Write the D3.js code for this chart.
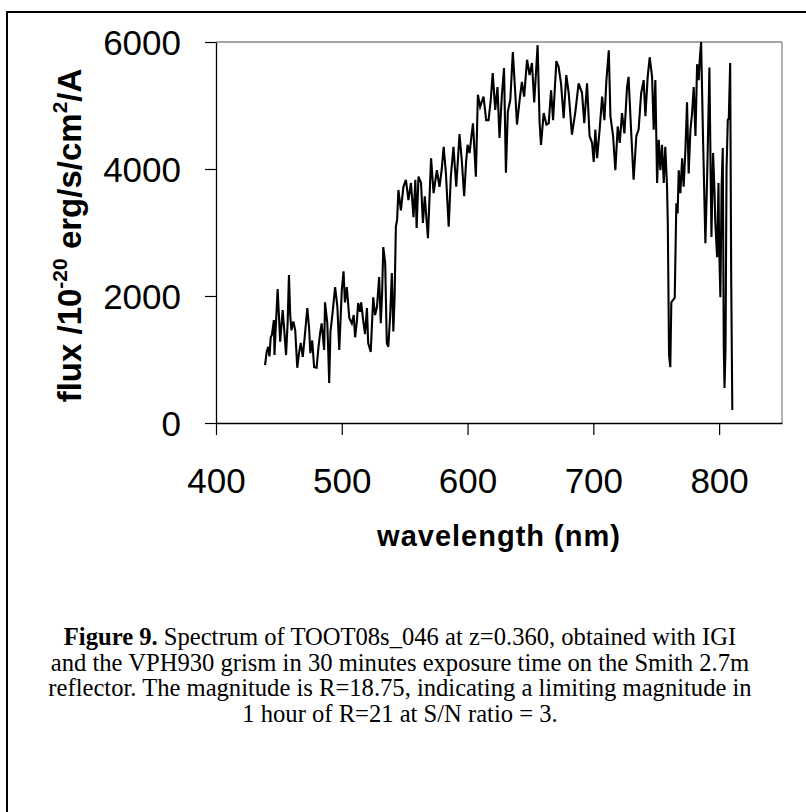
<!DOCTYPE html>
<html><head><meta charset="utf-8">
<script src="https://cdn.jsdelivr.net/npm/d3@7"></script>
<style>html,body{margin:0;padding:0;background:#fff;}</style>
</head><body>
<svg id="chart" width="806" height="812"></svg>
<script>
const wavelength = [439.0,440.3,441.5,442.5,443.5,444.5,446.0,446.5,447.5,449.0,450.0,451.0,453.0,454.5,455.7,457.0,458.0,459.0,460.0,461.5,463.0,464.6,466.0,467.4,469.0,470.5,472.6,474.0,475.0,476.5,478.0,480.0,481.5,482.8,484.0,486.0,486.7,488.5,489.3,490.0,491.0,492.5,494.7,496.5,498.0,500.0,501.4,502.5,504.0,506.0,508.0,509.5,510.6,512.0,513.0,514.5,515.4,517.0,518.5,520.0,521.0,523.0,525.0,526.5,528.0,529.7,531.0,532.0,533.0,534.5,535.8,537.0,538.5,539.8,541.0,542.0,543.0,544.0,545.0,547.0,549.0,551.0,553.0,555.0,557.0,558.5,559.5,561.0,563.0,564.5,566.0,568.5,570.0,571.0,573.0,575.6,577.7,579.5,581.0,582.8,585.0,586.7,588.8,591.0,593.6,595.5,597.3,598.8,600.0,601.6,603.0,604.3,606.6,608.2,610.0,612.7,614.8,616.7,618.5,620.0,622.0,623.8,625.4,627.3,629.0,630.5,632.0,634.0,636.0,638.0,639.3,641.4,643.2,645.0,647.3,649.3,651.2,653.0,655.7,657.3,658.4,660.5,662.7,664.5,666.4,668.0,670.6,672.4,674.3,676.4,678.5,680.4,683.0,685.7,688.3,691.0,692.8,695.0,697.0,699.0,700.3,701.6,703.0,705.0,707.0,708.8,710.4,712.3,713.6,715.7,717.5,719.4,721.0,722.8,724.7,726.8,728.0,730.0,732.0,734.2,736.0,738.0,740.0,741.4,743.2,744.8,746.7,748.0,749.3,750.7,752.0,753.3,754.6,756.0,757.2,758.6,759.2,760.2,761.2,762.0,764.7,766.0,767.0,767.9,769.2,770.6,771.8,773.2,774.5,775.8,777.2,778.5,779.8,781.2,782.5,783.8,784.6,785.7,787.3,789.1,790.5,792.3,793.3,793.9,795.2,796.3,797.0,798.4,799.5,800.0,801.0,802.0,802.9,803.7,804.3,805.1,805.9,806.9,807.7,808.8,809.6,810.5];
const flux = [910,1120,1200,1050,1350,1390,1620,1070,1500,2110,1700,1280,1780,1400,1070,1600,2330,1700,1460,1600,1460,870,1100,1260,1040,1350,1810,1500,1100,1300,880,870,1200,1420,1570,1150,1900,1570,1100,630,1440,1700,2140,1830,1150,2090,2390,1900,2140,1650,1570,1700,1350,1600,1890,1750,1900,1620,1400,1810,1260,1120,1980,1700,1830,2300,1570,2000,2770,2520,1260,1200,1700,2360,1440,1980,3090,3200,3670,3350,3720,3830,3510,3780,3240,3830,3070,3880,3780,3150,3570,2910,3670,4170,3620,3980,3720,4000,4350,3930,3090,3880,4350,3720,4550,4110,3570,4100,4380,4250,4500,4720,3880,5170,4980,5140,4770,4770,5100,5510,4930,5290,4490,5170,5590,3940,4900,5090,5840,5170,4700,5090,5370,5140,5720,5480,5670,5050,5950,4720,4380,4880,4700,4720,5240,4770,5700,5610,5350,4800,5480,5200,4540,4900,5350,5200,4720,5350,4520,4410,4110,4620,4170,4620,5140,4770,5400,5870,4830,4520,3980,4670,4410,4880,4560,5290,5450,4620,3830,4520,4620,5190,5400,4830,5450,5760,5450,4620,5400,3780,4460,3980,4380,3780,4350,3720,3150,1070,880,1900,1970,3460,3300,3980,3620,4170,3720,4300,5050,3930,4620,4880,5290,4520,5650,5400,5720,6000,4410,2830,3880,5600,3880,2930,4250,3670,3150,2610,3780,2800,1980,3720,4330,1200,550,1180,4000,4770,4800,5670,2300,205];
const xTicks = [400,500,600,700,800];
const yTicks = [0,2000,4000,6000];
const xTitle = "wavelength (nm)";
const captionLines = [
  ["Figure 9.", " Spectrum of TOOT08s_046 at z=0.360, obtained with IGI"],
  ["", "and the VPH930 grism in 30 minutes exposure time on the Smith 2.7m"],
  ["", "reflector. The magnitude is R=18.75, indicating a limiting magnitude in"],
  ["", "1 hour of R=21 at S/N ratio = 3."]
];

const svg = d3.select("#chart");
svg.append("rect").attr("x",7).attr("y",12).attr("width",900).attr("height",900)
  .attr("fill","none").attr("stroke","#000").attr("stroke-width",2);

const L=216, R=782, T=42, B=423;
const x = d3.scaleLinear().domain([400,850]).range([L,R]);
const y = d3.scaleLinear().domain([0,6000]).range([B,T]);

svg.append("line").attr("x1",L).attr("x2",R).attr("y1",T).attr("y2",T).attr("stroke","#888").attr("stroke-width",1.3);
svg.append("line").attr("x1",R).attr("x2",R).attr("y1",T).attr("y2",B).attr("stroke","#888").attr("stroke-width",1.3);

const data = wavelength.map((w,i)=>({w, f: flux[i]}));
svg.append("path").datum(data)
  .attr("fill","none").attr("stroke","#000").attr("stroke-width",2.1).attr("stroke-linejoin","miter")
  .attr("d", d3.line().x(d=>x(d.w)).y(d=>y(d.f)));

const xAxis = svg.append("g").attr("transform",`translate(0,${B})`)
  .call(d3.axisBottom(x).tickValues(xTicks).tickSize(12).tickSizeOuter(0).tickPadding(33).tickFormat(d3.format("d")));
const yAxis = svg.append("g").attr("transform",`translate(${L},0)`)
  .call(d3.axisLeft(y).tickValues(yTicks).tickSize(11).tickSizeOuter(0).tickPadding(24).tickFormat(d3.format("d")));
[xAxis,yAxis].forEach(a=>{
  a.select(".domain").attr("stroke","#000").attr("stroke-width",1.3);
  a.selectAll(".tick line").attr("stroke","#000").attr("stroke-width",1.2);
  a.selectAll("text").attr("font-family","Liberation Sans, Arial, sans-serif").attr("font-size",35).attr("fill","#000");
});
yAxis.selectAll("text").attr("dy","0.36em");
xAxis.selectAll("text").attr("dy","0.71em");

svg.append("text").attr("x",(L+R)/2).attr("y",546).attr("text-anchor","middle")
  .attr("font-family","Liberation Sans, Arial, sans-serif").attr("font-weight","bold").attr("font-size",29)
  .attr("letter-spacing",1).text(xTitle);

const yt = svg.append("text").attr("transform",`translate(81,${(T+B)/2 + 3}) rotate(-90)`).attr("text-anchor","middle")
  .attr("font-family","Liberation Sans, Arial, sans-serif").attr("font-weight","bold").attr("font-size",33);
yt.append("tspan").text("flux /10");
yt.append("tspan").attr("font-size",21).attr("dy",-14).text("-20");
yt.append("tspan").attr("dy",14).text(" erg/s/cm");
yt.append("tspan").attr("font-size",21).attr("dy",-14).text("2");
yt.append("tspan").attr("dy",14).text("/A");

const cap = svg.append("g").attr("font-family","Liberation Serif, Times New Roman, serif").attr("font-size",24.6);
captionLines.forEach((ln,i)=>{
  const t = cap.append("text").attr("x",400).attr("y",645+i*25.5).attr("text-anchor","middle");
  if (ln[0]) t.append("tspan").attr("font-weight","bold").text(ln[0]);
  t.append("tspan").text(ln[1]);
});
</script>
</body></html>
